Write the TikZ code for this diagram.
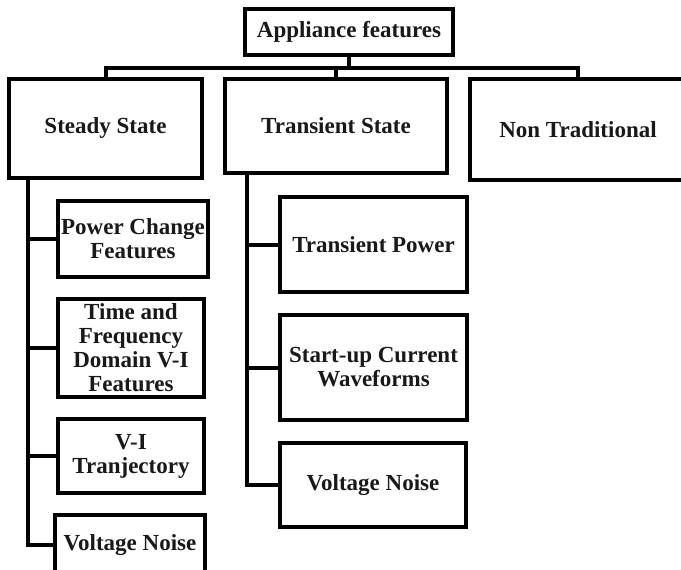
\documentclass[tikz,border=0pt]{standalone}
\usepackage{fontspec}
\setmainfont{Liberation Serif}
\usepackage{tikz}
\usetikzlibrary{arrows.meta,positioning,calc}

\begin{document}
\begin{tikzpicture}[
  font=\fontsize{23pt}{24pt}\selectfont\bfseries,
  >=Stealth,
  featbox/.style={
    draw=black,
    fill=white,
    line width=4pt,
    inner sep=0pt,
    outer sep=0pt,
    align=center,
    text=black!90
  },
  linkline/.style={
    line width=4pt,
    draw=black
  }
]

  \useasboundingbox (0,0) rectangle (681pt,-570pt);

  % Root
  \node[featbox, minimum width=208pt, minimum height=46pt] (root) at (349pt,-32pt) {Appliance features};

  % --- TOP ROW: three feature groups ---
  \node[featbox, minimum width=193pt, minimum height=99pt, anchor=north west] (steady) at (9pt,-79pt) {Steady State};

  \node[featbox, minimum width=222pt, minimum height=94pt, right=23pt of steady.north east, anchor=north west] (transient) {Transient State};

  \node[featbox, minimum width=216pt, minimum height=101pt, right=23pt of transient.north east, anchor=north west] (nontrad) {Non Traditional};

  % --- Steady state column ---
  \node[featbox, minimum width=150pt, minimum height=76pt, below right=23pt and 49pt of steady.south west] (pcf) {Power Change\\Features};

  \node[featbox, minimum width=146pt, minimum height=98pt, below=22pt of pcf.south west, anchor=north west] (tfd) {Time and\\Frequency\\Domain V-I\\Features};

  \node[featbox, minimum width=146pt, minimum height=74pt, below=22pt of tfd.south west, anchor=north west] (vit) {V-I\\Tranjectory};

  \node[featbox, minimum width=150pt, minimum height=60pt, below=22pt of vit.south west, anchor=north west, xshift=-3pt] (svn) {Voltage Noise};

  % --- Transient state column ---
  \node[featbox, minimum width=187pt, minimum height=95pt, below right=24pt and 55pt of transient.south west] (tpw) {Transient Power};

  \node[featbox, minimum width=187pt, minimum height=105pt, below=23pt of tpw.south west, anchor=north west] (scw) {Start-up Current\\Waveforms};

  \node[featbox, minimum width=186pt, minimum height=84pt, below=23pt of scw.south west, anchor=north west] (tvn) {Voltage Noise};

  % Bus from root to the three groups
  \coordinate (bus) at ($(root.south) + (0,-13pt)$);
  \draw[linkline] (root.south) -- (bus);
  \draw[linkline] (steady.north) -- (steady.north |- bus) -- (nontrad.north |- bus) -- (nontrad.north);
  \draw[linkline] (transient.north) -- (transient.north |- bus);

  % Trunks
  \coordinate (strunk) at ($(steady.south west) + (19pt,0)$);
  \coordinate (ttrunk) at ($(transient.south west) + (22pt,0)$);

  \draw[linkline] (strunk) |- (svn.west);
  \draw[linkline] (strunk |- pcf.west) -- (pcf.west);
  \draw[linkline] (strunk |- tfd.west) -- (tfd.west);
  \draw[linkline] (strunk |- vit.west) -- (vit.west);

  \draw[linkline] (ttrunk) |- (tvn.west);
  \draw[linkline] (ttrunk |- tpw.west) -- (tpw.west);
  \draw[linkline] (ttrunk |- scw.west) -- (scw.west);

\end{tikzpicture}
\end{document}
